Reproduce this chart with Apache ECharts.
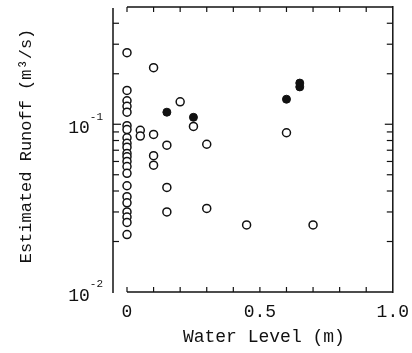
<!DOCTYPE html>
<html>
<head>
<meta charset="utf-8">
<script src="https://cdn.jsdelivr.net/npm/echarts@6/dist/echarts.min.js"></script>
<style>
  html, body { margin: 0; padding: 0; background: #fff; }
  #chart { width: 412px; height: 353px; }
</style>
</head>
<body>
<div id="chart"></div>
<script>
// open circles
const openX = [0, 0, 0, 0, 0, 0, 0, 0, 0, 0, 0, 0, 0, 0, 0, 0, 0, 0, 0, 0, 0, 0,
  0.05, 0.05, 0.1, 0.1, 0.1, 0.1, 0.15, 0.15, 0.15, 0.2, 0.25, 0.3, 0.3, 0.45, 0.6, 0.7];
const openY = [0.267, 0.159, 0.138, 0.128, 0.118, 0.098, 0.093, 0.083, 0.077, 0.073, 0.067,
  0.064, 0.060, 0.056, 0.051, 0.043, 0.037, 0.034, 0.030, 0.028, 0.026, 0.022,
  0.092, 0.085, 0.2175, 0.087, 0.065, 0.057, 0.075, 0.042, 0.030, 0.136, 0.097, 0.076, 0.0315, 0.0251, 0.089, 0.0251];
// filled circles
const fillX = [0.15, 0.25, 0.6, 0.65, 0.65];
const fillY = [0.118, 0.11, 0.141, 0.167, 0.176];

const xRange = [0, 1];
const yRange = [0.01, 0.5];
const xLabelTicks = [0, 0.5, 1];
const xMinorTicks = [0, 0.1, 0.2, 0.3, 0.4, 0.5, 0.6, 0.7, 0.8, 0.9];
const yLabelTicks = [0.01, 0.1];
const yMinorTicks = [0.02, 0.03, 0.04, 0.05, 0.06, 0.07, 0.08, 0.09, 0.1, 0.2, 0.3, 0.4];

const font = '"Liberation Mono", "DejaVu Sans Mono", monospace';
const ink = '#111';
const leftGap = 14; // left axis line sits a bit away from x = 0

const chart = echarts.init(document.getElementById('chart'));

const xBase = {
  type: 'value',
  min: xRange[0],
  max: xRange[1],
  splitLine: { show: false },
  axisLine: { show: false, onZero: false },
  axisTick: { show: false }
};
const yBase = {
  type: 'log',
  logBase: 10,
  min: yRange[0],
  max: yRange[1],
  splitLine: { show: false },
  axisLine: { show: false, onZero: false },
  axisTick: { show: false }
};

const lineStyle = (w) => ({ stroke: ink, lineWidth: w });

chart.setOption({
  animation: false,
  grid: { left: 127, right: 19, top: 7, bottom: 61 },
  graphic: [{
    type: 'text',
    x: 26,
    y: 146,
    rotation: Math.PI / 2,
    style: {
      text: 'Estimated Runoff (m³/s)',
      font: '17px ' + font,
      fill: ink,
      textAlign: 'center',
      textVerticalAlign: 'middle'
    }
  }],
  xAxis: [
    {
      ...xBase,
      position: 'bottom',
      name: 'Water Level (m)',
      nameLocation: 'middle',
      nameGap: 36,
      nameTextStyle: { fontFamily: font, fontSize: 18, color: ink, padding: [0, 0, 0, 8] },
      axisLabel: {
        customValues: xLabelTicks,
        margin: 11,
        fontFamily: font,
        fontSize: 18,
        color: ink,
        formatter: (v) => (v === 0 ? '0' : v.toFixed(1))
      }
    },
    { ...xBase, position: 'top', axisLabel: { show: false } }
  ],
  yAxis: [
    {
      ...yBase,
      position: 'left',
      offset: leftGap,
      axisLabel: {
        customValues: yLabelTicks,
        margin: 10,
        fontFamily: font,
        color: ink,
        formatter: (v) => '{b|10}{s|' + Math.round(Math.log10(v)) + '}',
        rich: {
          b: { fontFamily: font, fontSize: 18, color: ink, padding: [8, 0, 0, 0] },
          s: { fontFamily: font, fontSize: 11, color: ink, verticalAlign: 'top' }
        }
      }
    },
    { ...yBase, position: 'right', axisLabel: { show: false } }
  ],
  series: [
    {
      // frame: bottom/top from x=0 to x=1, right side, and the offset left side
      type: 'custom',
      clip: false,
      silent: true,
      data: [[xRange[0], yRange[0], xRange[1], yRange[1]]],
      renderItem: (params, api) => {
        const p0 = api.coord([api.value(0), api.value(1)]);
        const p1 = api.coord([api.value(2), api.value(3)]);
        const lx = p0[0] - leftGap;
        const seg = (x1, y1, x2, y2) => ({ type: 'line', shape: { x1, y1, x2, y2 }, style: lineStyle(1.5) });
        return {
          type: 'group',
          children: [
            seg(p0[0], p0[1], p1[0], p0[1]),
            seg(p0[0], p1[1], p1[0], p1[1]),
            seg(p1[0], p0[1] + 1, p1[0], p1[1] - 1),
            seg(lx, p0[1] + 1, lx, p1[1] + 1)
          ]
        };
      }
    },
    {
      // x ticks, bottom and top, pointing in
      type: 'custom',
      clip: false,
      silent: true,
      data: xMinorTicks.map((v) => [v, yRange[0]]),
      renderItem: (params, api) => {
        const x = api.coord([api.value(0), api.value(1)])[0];
        const cs = params.coordSys;
        const b = cs.y + cs.height;
        return {
          type: 'group',
          children: [
            { type: 'line', shape: { x1: x, y1: b, x2: x, y2: b - 5 }, style: lineStyle(1.2) },
            { type: 'line', shape: { x1: x, y1: cs.y, x2: x, y2: cs.y + 5 }, style: lineStyle(1.2) }
          ]
        };
      }
    },
    {
      // y ticks, left and right, pointing in
      type: 'custom',
      clip: false,
      silent: true,
      data: yMinorTicks.map((v) => [xRange[0], v]),
      renderItem: (params, api) => {
        const y = api.coord([api.value(0), api.value(1)])[1];
        const cs = params.coordSys;
        const lx = cs.x - leftGap;
        const r = cs.x + cs.width;
        const len = api.value(1) === 0.1 ? 8 : 6;
        return {
          type: 'group',
          children: [
            { type: 'line', shape: { x1: lx, y1: y, x2: lx + len, y2: y }, style: lineStyle(1.2) },
            { type: 'line', shape: { x1: r, y1: y, x2: r - len, y2: y }, style: lineStyle(1.2) }
          ]
        };
      }
    },
    {
      type: 'scatter',
      clip: false,
      symbol: 'circle',
      symbolSize: 8,
      z: 5,
      itemStyle: { color: '#fff', borderColor: ink, borderWidth: 1.5, opacity: 1 },
      data: openX.map((x, i) => [x, openY[i]])
    },
    {
      type: 'scatter',
      clip: false,
      symbol: 'circle',
      symbolSize: 8,
      z: 5,
      itemStyle: { color: ink, borderColor: ink, borderWidth: 1, opacity: 1 },
      data: fillX.map((x, i) => [x, fillY[i]])
    }
  ]
});
</script>
</body>
</html>
